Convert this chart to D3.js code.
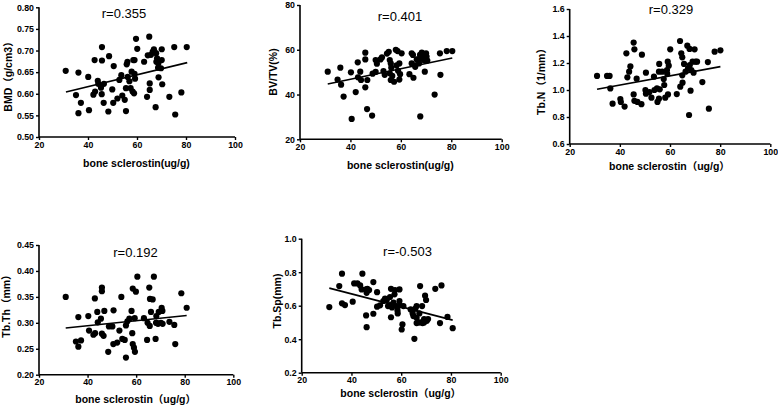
<!DOCTYPE html>
<html><head><meta charset="utf-8">
<script src="https://cdn.jsdelivr.net/npm/d3@7"></script>
<style>
html,body{margin:0;padding:0;background:#fff;}
svg{display:block;}
</style></head>
<body>
<svg id="chart" width="778" height="406"></svg>
<script>
// ---------- data ----------
const xTicks = [20, 40, 60, 80, 100];

const bmdX = [30.9,35.1,36.1,36.1,37.1,40.1,40.4,42.7,42.2,42.9,44.0,44.2,45.3,45.7,45.7,45.6,46.4,46.5,48.6,48.3,49.9,50.5,50.3,52.0,52.8,53.6,54.0,55.0,55.5,55.5,55.8,56.1,56.2,56.9,57.4,57.8,58.2,58.5,58.8,59.0,59.2,59.0,59.6,60.1,62.9,64.1,64.4,65.0,65.2,65.2,65.7,66.4,66.9,67.6,67.8,67.9,68.2,68.6,68.8,69.8,70.1,70.1,70.3,73.2,75.2,75.6,78.1,80.3,68.7];
const bmdY = [0.653,0.597,0.649,0.555,0.579,0.639,0.562,0.678,0.598,0.605,0.630,0.623,0.614,0.708,0.677,0.599,0.579,0.623,0.687,0.559,0.610,0.664,0.579,0.589,0.632,0.643,0.596,0.586,0.560,0.613,0.668,0.674,0.639,0.629,0.613,0.651,0.605,0.678,0.601,0.646,0.635,0.678,0.727,0.704,0.674,0.593,0.689,0.732,0.624,0.609,0.690,0.697,0.703,0.569,0.694,0.674,0.682,0.660,0.638,0.659,0.678,0.703,0.622,0.593,0.708,0.552,0.603,0.708,0.670];
const bmdFit = [[31, 0.604], [80.5, 0.672]];

const bvtvX = [31.0,34.9,36.0,36.3,37.3,40.5,40.2,42.1,42.9,43.9,43.0,44.2,45.9,45.9,45.9,46.6,46.7,48.6,48.8,50.0,50.5,50.0,51.9,52.5,53.1,53.6,54.5,55.2,55.6,56.0,55.6,56.0,56.6,57.3,58.0,58.7,58.3,58.9,59.4,59.7,59.4,60.3,63.4,64.3,64.8,64.3,65.0,65.7,66.3,65.7,67.1,67.7,68.3,68.7,69.1,69.5,70.0,70.2,70.5,73.4,75.5,75.7,78.2,80.4,67.6,56.2,67.2];
const bvtvY = [50.2,46.7,52.0,44.4,39.1,29.1,49.9,41.1,54.4,50.2,47.7,46.5,58.7,55.7,43.2,33.5,46.5,30.6,49.3,55.4,53.8,50.1,55.7,56.6,50.5,48.8,58.3,59.1,55.4,53.9,49.5,46.5,48.3,45.7,60.0,59.4,53.0,50.6,53.9,49.1,46.7,58.4,49.1,58.4,57.7,53.9,47.5,53.0,55.7,52.4,55.7,30.2,58.7,57.0,55.4,50.2,58.4,57.0,55.2,40.0,58.4,48.8,59.4,59.4,57.7,52.0,53.9];
const bvtvFit = [[31, 44.7], [80.4, 56.3]];

const tbnX = [30.9,34.9,35.9,36.2,37.1,40.2,40.4,41.9,42.6,43.0,43.7,44.2,45.5,45.8,45.5,45.8,46.7,47.0,48.6,48.8,50.4,50.2,50.4,51.8,52.6,53.6,53.8,54.8,55.0,55.6,55.7,55.9,55.6,56.9,57.5,57.7,58.1,58.8,59.1,59.5,58.9,59.2,60.1,62.7,64.0,64.5,64.9,64.9,64.1,65.0,65.6,66.2,66.9,67.8,67.6,68.2,67.9,68.5,69.0,69.4,69.8,70.2,70.8,72.9,75.1,75.5,77.8,80.1,67.2];
const tbnY = [1.104,1.104,1.104,1.012,0.899,0.933,0.911,0.877,1.272,1.094,1.136,1.175,1.351,1.301,0.967,0.920,1.084,0.912,0.895,1.262,1.128,1.000,0.973,0.985,0.943,1.099,1.000,1.012,0.912,1.136,1.193,1.005,0.936,1.136,1.081,1.037,0.943,1.148,1.210,1.180,1.119,0.967,1.301,0.970,1.363,1.272,1.242,1.109,1.025,1.054,1.193,1.136,1.328,1.304,0.815,0.995,1.185,1.148,1.210,1.128,1.301,1.210,1.210,1.059,1.207,0.862,1.284,1.294,1.160];
const tbnFit = [[30.9, 1.005], [80.1, 1.173]];

const tbthX = [31.0,35.2,36.2,36.2,37.3,40.3,40.6,42.4,43.0,43.1,44.0,44.2,45.5,45.9,45.9,45.9,46.6,46.9,48.5,48.8,50.2,50.6,50.7,52.2,53.1,53.9,54.3,55.3,55.8,55.8,56.4,57.2,58.1,58.4,58.6,58.6,59.1,59.4,59.5,59.9,60.5,63.2,64.5,64.7,65.4,65.6,65.7,66.1,66.8,67.3,68.0,68.2,68.3,69.0,69.3,70.2,70.5,70.8,73.7,75.7,76.1,78.6,80.8,68.4,70.9];
const tbthY = [0.350,0.264,0.311,0.254,0.266,0.313,0.285,0.277,0.347,0.280,0.321,0.301,0.308,0.368,0.361,0.279,0.275,0.323,0.244,0.293,0.293,0.259,0.324,0.262,0.285,0.350,0.269,0.267,0.233,0.295,0.303,0.308,0.323,0.280,0.366,0.259,0.252,0.309,0.244,0.360,0.389,0.309,0.267,0.300,0.368,0.294,0.346,0.321,0.345,0.389,0.269,0.300,0.313,0.298,0.321,0.300,0.329,0.323,0.302,0.296,0.259,0.357,0.329,0.300,0.298];
const tbthFit = [[31, 0.290], [80.8, 0.314]];

const tbspX = [31.1,35.1,36.2,36.2,37.4,40.5,41.1,42.4,43.5,44.4,44.1,45.9,46.1,46.4,45.9,46.1,47.1,48.8,48.8,50.3,50.3,51.5,52.8,53.5,54.2,54.7,55.5,55.9,55.5,55.9,56.3,56.9,57.3,57.5,58.2,58.5,58.6,59.3,59.3,59.5,60.2,60.5,60.9,63.8,64.6,64.9,65.3,65.7,66.2,66.2,66.8,67.3,67.6,67.8,68.4,68.6,69.2,69.6,70.0,70.3,70.8,73.7,75.6,76.2,78.6,80.7,66.2,69.2];
const tbspY = [0.592,0.717,0.791,0.614,0.604,0.624,0.733,0.733,0.721,0.791,0.697,0.697,0.677,0.701,0.542,0.472,0.693,0.741,0.552,0.681,0.594,0.602,0.628,0.642,0.634,0.598,0.604,0.701,0.652,0.531,0.590,0.618,0.668,0.693,0.598,0.572,0.554,0.697,0.628,0.602,0.458,0.488,0.598,0.578,0.554,0.538,0.402,0.582,0.598,0.528,0.500,0.554,0.717,0.500,0.598,0.496,0.520,0.660,0.634,0.510,0.520,0.701,0.496,0.721,0.533,0.466,0.496,0.500];
const tbspFit = [[31.1, 0.705], [80.7, 0.514]];

// ---------- panels (layout + labels) ----------
const panels = [
  {x: bmdX, y: bmdY, fit: bmdFit, yDomain: [0.5, 0.8], yTicks: [0.5,0.55,0.6,0.65,0.7,0.75,0.8], fmt: ".2f",
   yLabel: "BMD（g/cm3）", xLabel: "bone sclerostin(ug/g)", r: "r=0.355",
   px: [39, 235], py: [137, 7.3], yl: [7.5, 74], xl: 163, rl: [124, 13]},
  {x: bvtvX, y: bvtvY, fit: bvtvFit, yDomain: [20, 80], yTicks: [20,40,60,80], fmt: "d",
   yLabel: "BV/TV(%)", xLabel: "bone sclerostin(ug/g)", r: "r=0.401",
   px: [300, 501.7], py: [139.3, 5], yl: [273, 72], xl: 165, rl: [400, 16.5]},
  {x: tbnX, y: tbnY, fit: tbnFit, yDomain: [0.6, 1.6], yTicks: [0.6,0.8,1.0,1.2,1.4,1.6], fmt: ".1f",
   yLabel: "Tb.N（1/mm）", xLabel: "bone sclerostin（ug/g）", r: "r=0.329",
   px: [569.7, 770.3], py: [144, 9], yl: [541, 79], xl: 165.5, rl: [671, 9.5]},
  {x: tbthX, y: tbthY, fit: tbthFit, yDomain: [0.2, 0.45], yTicks: [0.2,0.25,0.3,0.35,0.4,0.45], fmt: ".2f",
   yLabel: "Tb.Th（mm）", xLabel: "bone sclerostin（ug/g）", r: "r=0.192",
   px: [39, 233.3], py: [374.7, 245], yl: [5.5, 303.5], xl: 399.3, rl: [135.5, 252]},
  {x: tbspX, y: tbspY, fit: tbspFit, yDomain: [0.2, 1.0], yTicks: [0.2,0.4,0.6,0.8,1.0], fmt: ".1f",
   yLabel: "Tb.Sp(mm)", xLabel: "bone sclerostin（ug/g）", r: "r=-0.503",
   px: [301.7, 500.7], py: [372.7, 238.7], yl: [276.5, 301], xl: 392.5, rl: [407.5, 251]}
];

const svg = d3.select("#chart");
const FONT = "'Liberation Sans', Arial, 'Noto Sans CJK SC', sans-serif";

panels.forEach(p => {
  const x = d3.scaleLinear().domain([20, 100]).range(p.px);
  const y = d3.scaleLinear().domain(p.yDomain).range(p.py);
  const g = svg.append("g");

  const xAxis = d3.axisBottom(x).tickValues(xTicks).tickSize(3).tickPadding(1.5).tickFormat(d3.format("d"));
  const yAxis = d3.axisLeft(y).tickValues(p.yTicks).tickSize(3).tickPadding(2).tickFormat(d3.format(p.fmt));

  const gx = g.append("g").attr("transform", `translate(0,${p.py[0]})`).call(xAxis);
  const gy = g.append("g").attr("transform", `translate(${p.px[0]},0)`).call(yAxis);
  [gx, gy].forEach(a => {
    a.select(".domain").attr("stroke", "#000").attr("stroke-width", 1.6);
    a.selectAll(".tick line").attr("stroke", "#000").attr("stroke-width", 1.4);
    a.selectAll("text").attr("fill", "#000")
      .style("font-family", FONT).style("font-weight", "bold").style("font-size", "8.8px");
  });
  gx.select(".domain").attr("d", `M${p.px[0]},0H${p.px[1]}`);
  gy.select(".domain").attr("d", `M0,${p.py[0]}V${p.py[1]}`);

  // points
  g.append("g").selectAll("circle").data(p.x.map((v, i) => [v, p.y[i]]))
    .enter().append("circle")
    .attr("cx", d => x(d[0])).attr("cy", d => y(d[1])).attr("r", 3.1).attr("fill", "#000");

  // regression line
  g.append("path").datum(p.fit)
    .attr("d", d3.line().x(d => x(d[0])).y(d => y(d[1])))
    .attr("stroke", "#000").attr("stroke-width", 1.6).attr("fill", "none");

  // labels
  g.append("text").attr("x", (p.px[0] + p.px[1]) / 2 - 0.5).attr("y", p.xl)
    .attr("text-anchor", "middle").attr("dominant-baseline", "central")
    .style("font-family", FONT).style("font-weight", "bold").style("font-size", "10.5px")
    .text(p.xLabel);
  g.append("text").attr("transform", `translate(${p.yl[0]},${p.yl[1]}) rotate(-90)`)
    .attr("text-anchor", "middle").attr("dominant-baseline", "central")
    .style("font-family", FONT).style("font-weight", "bold").style("font-size", "10.5px")
    .text(p.yLabel);
  g.append("text").attr("x", p.rl[0]).attr("y", p.rl[1])
    .attr("text-anchor", "middle").attr("dominant-baseline", "central")
    .style("font-family", FONT).style("font-size", "13px")
    .text(p.r);
});
</script>
</body></html>
